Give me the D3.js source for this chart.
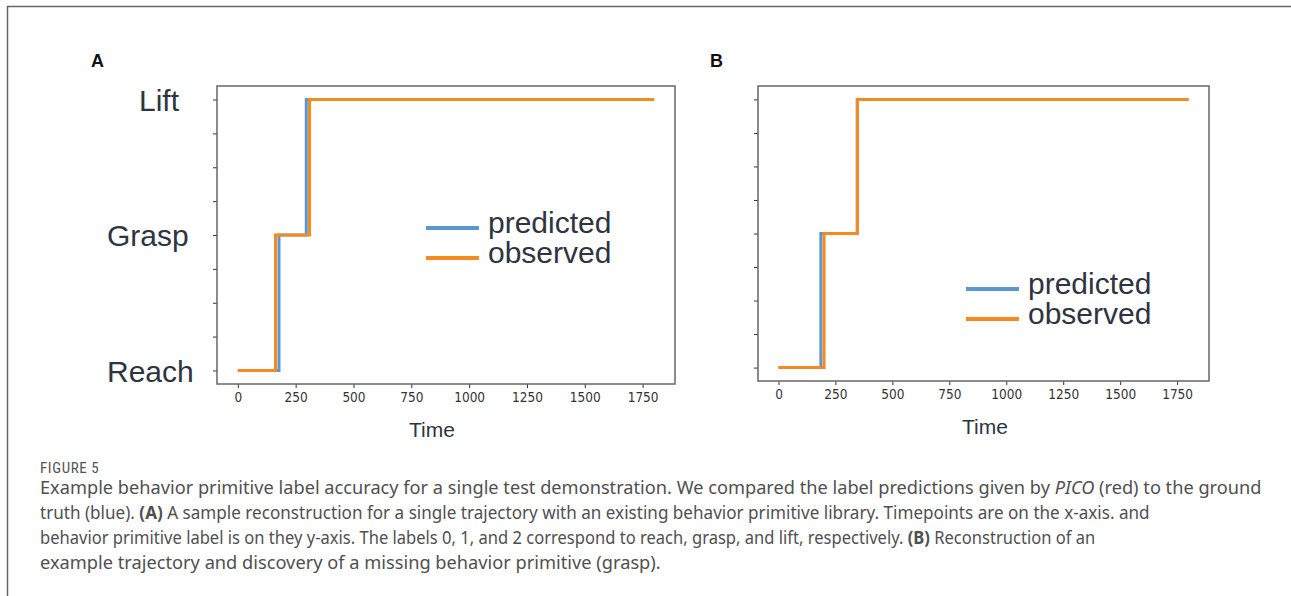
<!DOCTYPE html>
<html>
<head>
<meta charset="utf-8">
<script src="https://cdn.jsdelivr.net/npm/d3@7"></script>
<style>
  body { margin: 0; background: #fff; }
  svg { display: block; }
</style>
</head>
<body>
<div id="chart"></div>
<script>
// state labels (y axis) and x ticks
var stateLabels = ["Reach", "Grasp", "Lift"];
var xTicks = [0, 250, 500, 750, 1000, 1250, 1500, 1750];
var yTicks = [0, 0.25, 0.5, 0.75, 1, 1.25, 1.5, 1.75, 2];

// panel A: change points (time) and state index after each change
var predA_t = [0, 178, 296, 1800];
var predA_v = [0, 1, 2, 2];
var obsA_t = [0, 163, 310, 1800];
var obsA_v = [0, 1, 2, 2];

// panel B
var predB_t = [0, 186, 346, 1800];
var predB_v = [0, 1, 2, 2];
var obsB_t = [0, 200, 346, 1800];
var obsB_v = [0, 1, 2, 2];

var seriesNames = ["predicted", "observed"];
var seriesColors = ["#5a96d2", "#f58a1f"];

var captionLines = [
  [{t: "Example behavior primitive label accuracy for a single test demonstration. We compared the label predictions given by "}, {t: "PICO", i: true}, {t: " (red) to the ground"}],
  [{t: "truth (blue). "}, {t: "(A)", b: true}, {t: " A sample reconstruction for a single trajectory with an existing behavior primitive library. Timepoints are on the x-axis. and"}],
  [{t: "behavior primitive label is on they y-axis. The labels 0, 1, and 2 correspond to reach, grasp, and lift, respectively. "}, {t: "(B)", b: true}, {t: " Reconstruction of an"}],
  [{t: "example trajectory and discovery of a missing behavior primitive (grasp)."}]
];
// rendered widths of the caption lines in the original layout
var captionWidths = [1222, 1110, 1056, 621];

var width = 1291, height = 596;
var textCol = "#2e3440";

var svg = d3.select("#chart").append("svg")
  .attr("width", width)
  .attr("height", height);

// figure border (top + left)
svg.append("path")
  .attr("d", "M7.5," + height + "V6.5H" + width)
  .attr("fill", "none")
  .attr("stroke", "#666")
  .attr("stroke-width", 1.5);

function zip(ts, vs) {
  return ts.map(function(t, i) { return {t: t, v: vs[i]}; });
}

function panel(opt) {
  var x = d3.scaleLinear().domain([-90, 1890]).range([opt.x0, opt.x1]);
  var y = d3.scaleLinear().domain([-0.1, 2.1]).range([opt.y1, opt.y0]);
  var g = svg.append("g");

  g.append("text")
    .attr("x", opt.labelX).attr("y", 67)
    .attr("font-family", "Liberation Sans, Arial, sans-serif")
    .attr("font-weight", "bold")
    .attr("font-size", 18)
    .attr("fill", "#111")
    .text(opt.letter);

  var xAxis = g.append("g")
    .attr("transform", "translate(0," + opt.y1 + ")")
    .call(d3.axisBottom(x).tickValues(xTicks).tickSize(4).tickSizeOuter(0)
      .tickFormat(d3.format("d")));
  xAxis.select(".domain").remove();
  xAxis.selectAll(".tick line").attr("stroke", "#333");
  xAxis.selectAll(".tick text")
    .attr("font-family", "DejaVu Sans Condensed, DejaVu Sans, sans-serif")
    .attr("font-size", 13.5)
    .attr("fill", "#333")
    .attr("dy", "0.85em");

  var yAxis = g.append("g")
    .attr("transform", "translate(" + opt.x0 + ",0)")
    .call(d3.axisLeft(y).tickValues(yTicks).tickSize(4).tickSizeOuter(0)
      .tickFormat(function(d) {
        return opt.showY && Number.isInteger(d) ? stateLabels[d] : "";
      }));
  yAxis.select(".domain").remove();
  yAxis.selectAll(".tick line").attr("stroke", "#333");
  yAxis.selectAll(".tick text")
    .attr("font-family", "Liberation Sans, Arial, sans-serif")
    .attr("font-size", 30)
    .attr("fill", textCol)
    .attr("text-anchor", "start")
    .attr("x", function(d) { return d === 2 ? -78 : -110; })
    .attr("dy", "0.36em");

  var line = d3.line()
    .curve(d3.curveStepAfter)
    .x(function(d) { return x(d.t); })
    .y(function(d) { return y(d.v); });

  opt.series.forEach(function(s, i) {
    g.append("path")
      .datum(s)
      .attr("d", line)
      .attr("fill", "none")
      .attr("stroke", seriesColors[i])
      .attr("stroke-width", 3);
  });

  // frame
  g.append("rect")
    .attr("x", opt.x0).attr("y", opt.y0)
    .attr("width", opt.x1 - opt.x0).attr("height", opt.y1 - opt.y0)
    .attr("fill", "none")
    .attr("stroke", "#666")
    .attr("stroke-width", 1.5);

  g.append("text")
    .attr("x", opt.timeX).attr("y", opt.y1 + 53)
    .attr("text-anchor", "middle")
    .attr("font-family", "Liberation Sans, Arial, sans-serif")
    .attr("font-size", 21)
    .attr("fill", textCol)
    .text("Time");

  // legend
  seriesNames.forEach(function(name, i) {
    var by = opt.legY + i * 30;
    g.append("line")
      .attr("x1", opt.legX).attr("x2", opt.legX + 53)
      .attr("y1", by - 5).attr("y2", by - 5)
      .attr("stroke", seriesColors[i])
      .attr("stroke-width", 4);
    g.append("text")
      .attr("x", opt.legX + 62).attr("y", by)
      .attr("font-family", "Liberation Sans, Arial, sans-serif")
      .attr("font-size", 30)
      .attr("fill", textCol)
      .text(name);
  });
}

panel({letter: "A", labelX: 91, x0: 217, x1: 675, y0: 86, y1: 384, showY: true,
  timeX: 432, legX: 426, legY: 233,
  series: [zip(predA_t, predA_v), zip(obsA_t, obsA_v)]});

panel({letter: "B", labelX: 710, x0: 758, x1: 1209, y0: 86, y1: 381, showY: false,
  timeX: 985, legX: 966, legY: 294,
  series: [zip(predB_t, predB_v), zip(obsB_t, obsB_v)]});

// caption
svg.append("text")
  .attr("x", 40).attr("y", 473)
  .attr("font-family", "Roboto Condensed, Roboto, sans-serif")
  .attr("font-size", 15)
  .attr("letter-spacing", 0.6)
  .attr("fill", "#555")
  .text("FIGURE 5");

captionLines.forEach(function(parts, li) {
  var lg = svg.append("g");
  var t = lg.append("text")
    .attr("x", 0).attr("y", 0)
    .attr("font-family", "Noto Sans, sans-serif")
    .attr("font-size", 18)
    .attr("fill", "#505050");
  parts.forEach(function(p) {
    t.append("tspan")
      .attr("font-weight", p.b ? "bold" : null)
      .attr("font-style", p.i ? "italic" : null)
      .text(p.t);
  });
  // squeeze the line horizontally to the width it has in the original
  var w = t.node().getComputedTextLength();
  var sx = captionWidths[li] / w;
  lg.attr("transform", "translate(40," + (494 + li * 25) + ") scale(" + sx + ",1)");
});
</script>
</body>
</html>
